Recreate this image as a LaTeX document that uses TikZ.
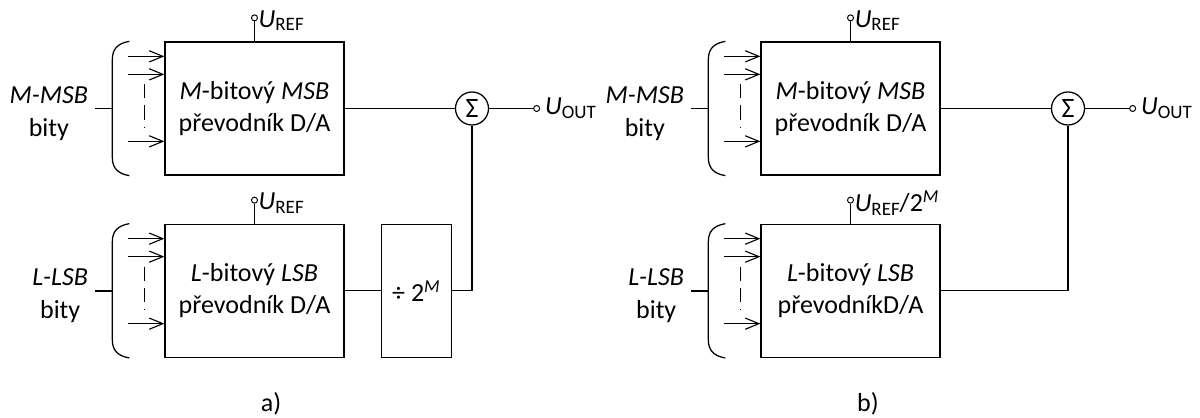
\documentclass[tikz,border=0pt]{standalone}
\usepackage{fontspec}
\setmainfont{Carlito}
\usepackage{tikz}
\usetikzlibrary{arrows.meta, positioning, calc}
\tikzstyle{arrow} = [line width=0.8pt,-{Straight Barb[length=3.4mm,width=2.8mm]}]
\tikzstyle{wire} = [line width=0.9pt]
\tikzstyle{bus} = [line width=1.3pt]
\tikzstyle{bitdash} = [line width=0.7pt, dash pattern=on 10pt off 5pt]
\tikzstyle{block} = [rectangle, minimum width=4.475cm, minimum height=3.325cm, align=center, draw=black, line width=0.9pt]
\tikzstyle{divider} = [rectangle, minimum width=1.75cm, minimum height=3.325cm, draw=black, line width=0.9pt]
\tikzstyle{summer} = [circle, minimum size=0.825cm, inner sep=0pt, draw=black, line width=0.9pt, font=\fontsize{20}{20}\selectfont]
\tikzstyle{terminal} = [circle, minimum size=1.5mm, inner sep=0pt, draw=black, line width=0.7pt]
\tikzstyle{caption} = [inner sep=0pt]
\newcommand{\subtxt}[1]{\raisebox{-0.3ex}{\fontsize{13.5}{13.5}\selectfont #1}}

\begin{document}
\begin{tikzpicture}[x=0.025cm, y=-0.025cm, font=\fontsize{18.5}{23}\selectfont]
\useasboundingbox (0,0) rectangle (1200,418);

% Panel a)
\node (msbA) [block] at (254.5,108.5) {\textit{M}-bitový \textit{MSB}\\převodník D/A};
\node (lsbA) [block, below=1.2cm of msbA] {\textit{L}-bitový \textit{LSB}\\převodník D/A};
\node (divA) [divider, right=0.9cm of lsbA] {÷ 2\textsuperscript{\textit{M}}};
\node (sumA) [summer] at (472,108.5) {Σ};
\node (outA) [terminal, right=1.1cm of sumA] {};
\node (uoutA) [right=0pt of outA] {\textit{U}\subtxt{OUT}};
\node (refA1) [terminal, above=0.5cm of msbA] {};
\node (urefA1) [right=-3pt of refA1, yshift=-2pt] {\textit{U}\subtxt{REF}};
\node (refA2) [terminal, above=0.5cm of lsbA] {};
\node (urefA2) [right=-3pt of refA2, yshift=-2pt] {\textit{U}\subtxt{REF}};
\node (inA1) [anchor=east, align=center, inner sep=0pt] at ([shift={(-76,5)}]msbA.west) {\textit{M-MSB}\\bity};
\node (inA2) [anchor=east, align=center, inner sep=0pt] at ([shift={(-76,5)}]lsbA.west) {\textit{L-LSB}\\bity};
\node (lblA) [caption] at (271,404) {a)};

% Panel b)
\node (msbB) [block] at (850.5,108.5) {\textit{M}-bitový \textit{MSB}\\převodník D/A};
\node (lsbB) [block, below=1.2cm of msbB] {\textit{L}-bitový \textit{LSB}\\převodníkD/A};
\node (sumB) [summer] at (1068,108.5) {Σ};
\node (outB) [terminal, right=1.1cm of sumB] {};
\node (uoutB) [right=0pt of outB] {\textit{U}\subtxt{OUT}};
\node (refB1) [terminal, above=0.5cm of msbB] {};
\node (urefB1) [right=-3pt of refB1, yshift=-2pt] {\textit{U}\subtxt{REF}};
\node (refB2) [terminal, above=0.5cm of lsbB] {};
\node (urefB2) [right=-3pt of refB2, yshift=-2pt] {\textit{U}\subtxt{REF}/2\textsuperscript{\textit{M}}};
\node (inB1) [anchor=east, align=center, inner sep=0pt] at ([shift={(-76,5)}]msbB.west) {\textit{M-MSB}\\bity};
\node (inB2) [anchor=east, align=center, inner sep=0pt] at ([shift={(-76,5)}]lsbB.west) {\textit{L-LSB}\\bity};
\node (lblB) [caption] at (868,404) {b)};

% Input buses
\foreach \b in {msbA,lsbA,msbB,lsbB} {
  \draw [wire] ([shift={(-35,0)}]\b.north west) .. controls ([shift={(-47,2)}]\b.north west) and ([shift={(-52,8)}]\b.north west) .. ([shift={(-52,18)}]\b.north west) -- ([shift={(-52,-18)}]\b.south west) .. controls ([shift={(-52,-8)}]\b.south west) and ([shift={(-47,-2)}]\b.south west) .. ([shift={(-35,0)}]\b.south west);
  \draw [bus] ([xshift=-69*0.025cm]\b.west) -- ([xshift=-52*0.025cm]\b.west);
  \foreach \dy in {15,33,100}
    \draw [arrow] ([shift={(-36,\dy)}]\b.north west) -- ([shift={(0,\dy)}]\b.north west);
  \draw [bitdash] ([shift={(-20,43)}]\b.north west) -- ([shift={(-20,86)}]\b.north west);
}

% Connections
\draw [wire] (refA1) -- (msbA);
\draw [wire] (refA2) -- (lsbA);
\draw [wire] (msbA) -- (sumA);
\draw [wire] (sumA) -- (outA);
\draw [wire] (lsbA) -- (divA);
\draw [wire] (divA.east) -| (sumA.south);
\draw [wire] (refB1) -- (msbB);
\draw [wire] (refB2) -- (lsbB);
\draw [wire] (msbB) -- (sumB);
\draw [wire] (sumB) -- (outB);
\draw [wire] (lsbB.east) -| (sumB.south);

\end{tikzpicture}
\end{document}
